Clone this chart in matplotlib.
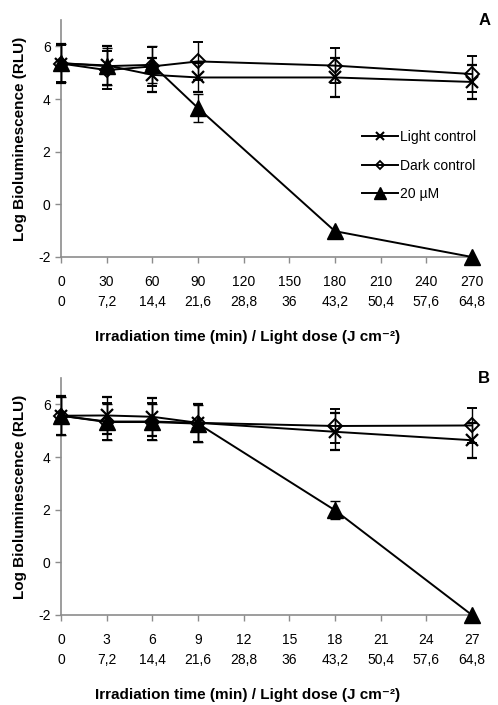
import numpy as np
import matplotlib
matplotlib.use("Agg")
import matplotlib.pyplot as plt
import matplotlib.transforms as mtransforms
from matplotlib.lines import Line2D

plt.rcParams['font.family'] = ['Liberation Sans', 'DejaVu Sans']
plt.rcParams['axes.unicode_minus'] = False

# Panel A
time_a = [0, 30, 60, 90, 180, 270]
time_a_ticks = [0, 30, 60, 90, 120, 150, 180, 210, 240, 270]
light_a = [5.35, 5.28, 4.92, 4.82, 4.82, 4.65]
light_a_err = [0.75, 0.75, 0.65, 0.55, 0.74, 0.65]
dark_a = [5.35, 5.10, 5.24, 5.43, 5.27, 4.95]
dark_a_err = [0.7, 0.72, 0.75, 0.72, 0.67, 0.67]
uv_a = [5.37, 5.25, 5.30, 3.66, -1.02, -2.0]
uv_a_err = [0.72, 0.7, 0.7, 0.55, 0.0, 0.0]

# Panel B
time_b = [0, 3, 6, 9, 18, 27]
time_b_ticks = [0, 3, 6, 9, 12, 15, 18, 21, 24, 27]
light_b = [5.57, 5.58, 5.53, 5.30, 4.96, 4.64]
light_b_err = [0.75, 0.72, 0.72, 0.72, 0.70, 0.67]
dark_b = [5.57, 5.35, 5.35, 5.30, 5.18, 5.20]
dark_b_err = [0.72, 0.72, 0.70, 0.72, 0.66, 0.67]
uv_b = [5.57, 5.33, 5.33, 5.27, 1.98, -2.0]
uv_b_err = [0.72, 0.7, 0.7, 0.7, 0.35, 0.0]

dose_labels = ['0', '7,2', '14,4', '21,6', '28,8', '36', '43,2', '50,4', '57,6', '64,8']

fig = plt.figure(figsize=(4.98, 7.05), dpi=100)
ax_a = fig.add_axes([0.1225, 0.6355, 0.825, 0.336])
ax_b = fig.add_axes([0.1225, 0.1277, 0.825, 0.336])


def draw_panel(ax, t, ticks, light, light_err, dark, dark_err, uv, uv_err, letter, legend):
    ekw = dict(ecolor='black', elinewidth=1, capsize=3.5, capthick=1, zorder=3)
    series = [
        (light, light_err, dict(marker='x', ms=9, mew=1.6)),
        (dark, dark_err, dict(marker='D', ms=7.5, mew=1.4, mfc='none')),
        (uv, uv_err, dict(marker='^', ms=11)),
    ]
    for vals, err, mkw in series:
        err_arr = np.array(err)
        cont = ax.errorbar(t, vals, yerr=np.where(err_arr > 0, err_arr, np.nan),
                           color='black', lw=1.4, **mkw, **ekw)
        cont[0].set_clip_on(False)
        for c in cont[1]:
            c.set_clip_on(False)
        for c in cont[2]:
            c.set_clip_on(False)

    span = ticks[-1]
    ax.set_xlim(0, span)
    ax.set_ylim(-2, 7)
    ax.set_yticks([-2, 0, 2, 4, 6])
    ax.set_xticks(ticks)
    ax.set_xticklabels([])
    for s in ['top', 'right']:
        ax.spines[s].set_visible(False)
    for s in ['left', 'bottom']:
        ax.spines[s].set_color('#8c8c8c')
        ax.spines[s].set_linewidth(1.2)
    ax.tick_params(axis='both', colors='#8c8c8c', labelcolor='black',
                   labelsize=10, length=4, width=1)
    ax.set_ylabel('Log Bioluminescence (RLU)', fontsize=11, fontweight='bold', labelpad=8)

    trans = mtransforms.blended_transform_factory(ax.transData, ax.transAxes)
    for tk, dl in zip(ticks, dose_labels):
        ax.text(tk, -0.104, str(tk), transform=trans, ha='center', va='center', fontsize=10)
        ax.text(tk, -0.189, dl, transform=trans, ha='center', va='center', fontsize=10)
    ax.text(0.453, -0.336, 'Irradiation time (min) / Light dose (J cm\u207b\u00b2)',
            transform=ax.transAxes, ha='center', va='center', fontsize=11, fontweight='bold')
    ax.text(1.045, 1.0, letter, transform=ax.transAxes, ha='right', va='center',
            fontsize=12, fontweight='bold')
    if legend:
        handles = [
            Line2D([], [], color='black', lw=1.4, marker='x', ms=5.5, mew=1.5),
            Line2D([], [], color='black', lw=1.4, marker='D', ms=4.5, mew=1.3, mfc='none'),
            Line2D([], [], color='black', lw=1.4, marker='^', ms=8),
        ]
        ax.legend(handles, ['Light control', 'Dark control', '20 µM'],
                  loc='upper left', bbox_to_anchor=(0.715, 0.565), frameon=False,
                  fontsize=10, handlelength=2.6, handletextpad=0.15, labelspacing=1.05,
                  borderpad=0)


draw_panel(ax_a, time_a, time_a_ticks, light_a, light_a_err, dark_a, dark_a_err,
           uv_a, uv_a_err, 'A', True)
draw_panel(ax_b, time_b, time_b_ticks, light_b, light_b_err, dark_b, dark_b_err,
           uv_b, uv_b_err, 'B', False)

fig.savefig('out.png', dpi=100)
